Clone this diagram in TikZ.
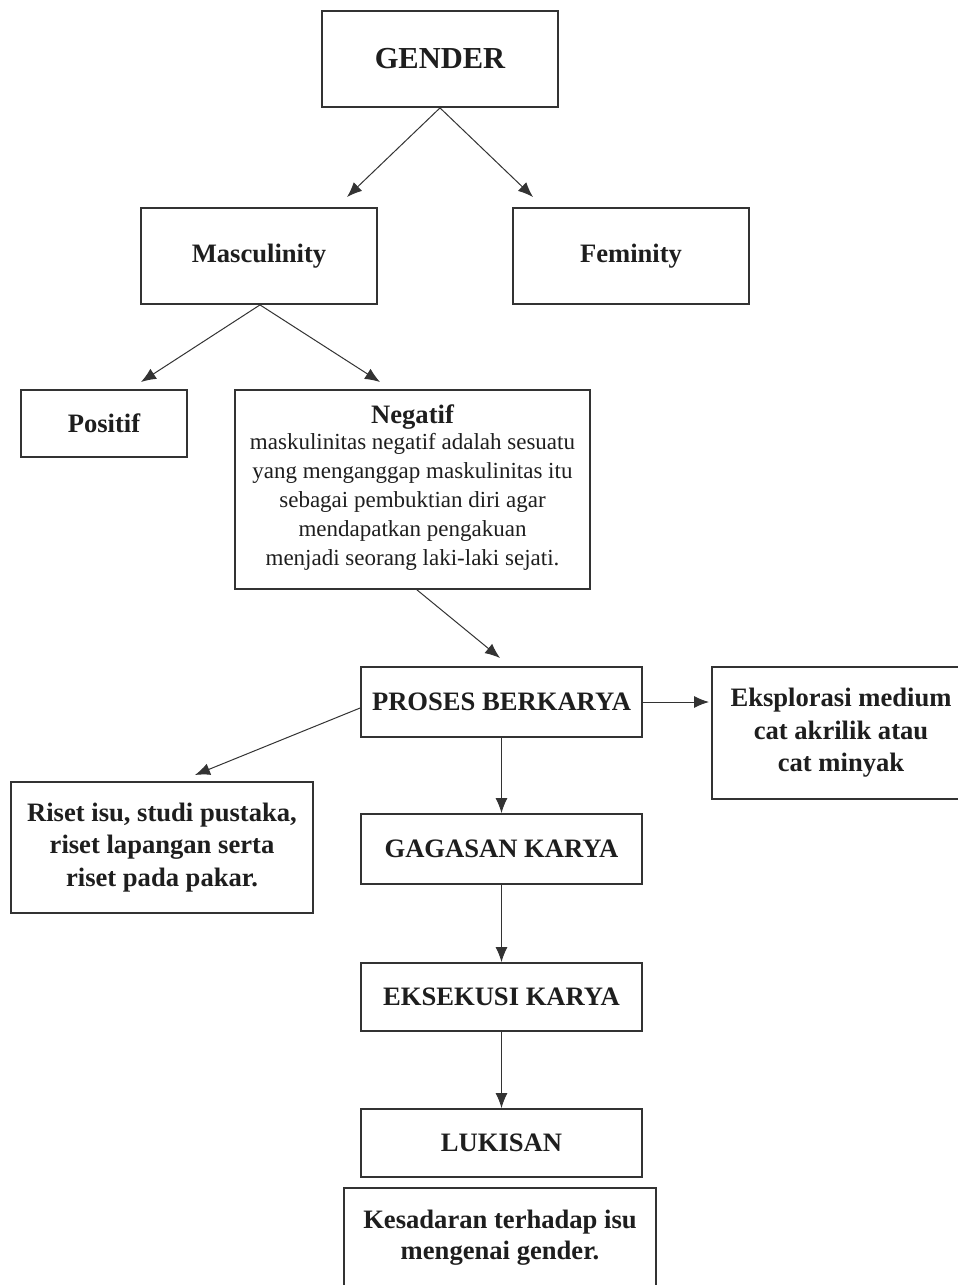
\documentclass[tikz,border=0pt]{standalone}
\usepackage{fontspec}
\setmainfont{Liberation Serif}
\usetikzlibrary{arrows.meta,calc}
\definecolor{linec}{HTML}{333333}
\definecolor{txtc}{HTML}{1E1E1E}
\tikzset{
  box/.style={draw=linec, line width=1.8pt, fill=white, inner sep=0pt, align=center, text=txtc,
    font=\fontsize{26.6}{32.5}\selectfont\bfseries},
  plain/.style={inner sep=0pt, align=center, text=txtc},
  conn/.style={draw=black!80, line width=1pt, -{Latex[length=15pt,width=12pt]}}
}
\begin{document}
\begin{tikzpicture}[x=1pt,y=-1pt]
\useasboundingbox (0,0) rectangle (958,1285);
\clip (0,0) rectangle (958,1285);
\fill[white] (0,0) rectangle (958,1285);

\node[box, minimum width=236pt, minimum height=96pt, font=\fontsize{30.5}{33}\selectfont\bfseries] (gender) at (440,59) {GENDER};
\node[box, minimum width=236pt, minimum height=96pt] (masc) at (259,256) {Masculinity};
\node[box, minimum width=236pt, minimum height=96pt] (fem) at (631,256) {Feminity};
\node[box, minimum width=166pt, minimum height=67pt] (pos) at (104,423.5) {Positif};
\node[box, minimum width=355pt, minimum height=199pt] (neg) at (412.5,489.5) {};
\node[plain, font=\fontsize{26.6}{29}\selectfont\bfseries] (negtitle) at (412.5,417) {Negatif};
\node[plain, font=\fontsize{23}{29}\selectfont] (negtext) at (412.5,502) {maskulinitas negatif adalah sesuatu\\
  yang menganggap maskulinitas itu\\
  sebagai pembuktian diri agar\\
  mendapatkan pengakuan\\
  menjadi seorang laki-laki sejati.};
\node[box, minimum width=281pt, minimum height=70pt] (proses) at (501.5,702) {PROSES BERKARYA};
\node[box, minimum width=258pt, minimum height=132pt] (eks) at (841,733) {Eksplorasi medium\\cat akrilik atau\\cat minyak};
\node[box, minimum width=302pt, minimum height=131pt] (riset) at (162,847.5) {Riset isu, studi pustaka,\\riset lapangan serta\\riset pada pakar.};
\node[box, minimum width=281pt, minimum height=70pt] (gagasan) at (501.5,849) {GAGASAN KARYA};
\node[box, minimum width=281pt, minimum height=68pt] (eksekusi) at (501.5,997) {EKSEKUSI KARYA};
\node[box, minimum width=281pt, minimum height=68pt] (lukisan) at (501.5,1143) {LUKISAN};
\node[box, minimum width=312pt, minimum height=120pt] (kes) at (500,1248) {};
\node[plain, font=\fontsize{26.6}{31}\selectfont\bfseries] (kestext) at (500,1238) {Kesadaran terhadap isu\\mengenai gender.};

\coordinate (gL) at (347,197);
\coordinate (gR) at (533,197);
\coordinate (mL) at (141,382);
\coordinate (mR) at (380,382);
\coordinate (nT) at (500,658);
\coordinate (pL) at (195,775);
\coordinate (pR) at (709,702);

\draw[conn] (gender.south) -- (gL);
\draw[conn] (gender.south) -- (gR);
\draw[conn] ([xshift=1pt]masc.south) -- (mL);
\draw[conn] ([xshift=1pt]masc.south) -- (mR);
\draw[conn] ([xshift=4.5pt]neg.south) -- (nT);
\draw[conn] ([yshift=-6pt]proses.west) -- (pL);
\draw[conn] (proses.east) -- (pR);
\draw[conn] (proses.south) -- (gagasan.north);
\draw[conn] (gagasan.south) -- (eksekusi.north);
\draw[conn] (eksekusi.south) -- (lukisan.north);
\end{tikzpicture}
\end{document}
